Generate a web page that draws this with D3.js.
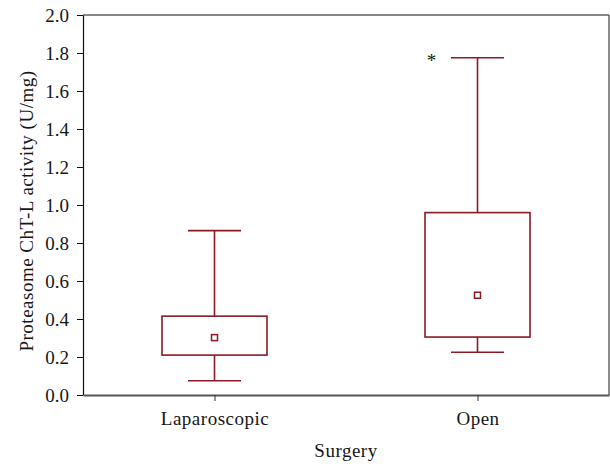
<!DOCTYPE html>
<html>
<head>
<meta charset="utf-8">
<script src="https://cdnjs.cloudflare.com/ajax/libs/d3/7.8.5/d3.min.js"></script>
<style>
	body { margin: 0; background: #fff; }
	svg text { font-family: "Liberation Serif", "Times New Roman", serif; fill: #161616; }
</style>
</head>
<body>
<div id="chart"></div>
<script>
'use strict'

// box summaries
let categories = ['Laparoscopic', 'Open'],
    whiskerLow = [0.075, 0.225],
    q1 = [0.21, 0.305],
    q3 = [0.415, 0.96],
    whiskerHigh = [0.865, 1.775],
    means = [0.302, 0.525];

let outlierGroup = ['Open'],
    outlierValue = [1.775];

let yTicks = [0, 0.2, 0.4, 0.6, 0.8, 1.0, 1.2, 1.4, 1.6, 1.8, 2.0];

let svg = d3.select('#chart')
	.append('svg')
	.attr('width', 610)
	.attr('height', 464);

let margin = {top: 15, right: 1, bottom: 69, left: 83},
    width = +svg.attr('width') - margin.left - margin.right,
    height = +svg.attr('height') - margin.top - margin.bottom;

let x = d3.scalePoint().domain(categories).range([0, width]).padding(0.5),
    y = d3.scaleLinear().domain([0, 2]).range([height, 0]);

let boxW = 105, capW = 53, red = '#8b1a22';

let g = svg.append('g')
	.attr('transform', 'translate(' + margin.left + ',' + margin.top + ')');

// frame: top and right
g.append('line').attr('x1', 0).attr('x2', width).attr('y1', 0).attr('y2', 0)
	.attr('stroke', '#111').attr('stroke-width', 1.2);
g.append('line').attr('x1', width).attr('x2', width).attr('y1', 0).attr('y2', height)
	.attr('stroke', '#666').attr('stroke-width', 1.5);

let data = categories.map(function(c, i) {
	return {cat: c, lo: whiskerLow[i], q1: q1[i], q3: q3[i], hi: whiskerHigh[i], mean: means[i]};
});

let box = g.selectAll('.box')
	.data(data)
	.enter().append('g')
	.attr('class', 'box')
	.attr('transform', function(d) { return 'translate(' + x(d.cat) + ',0)'; });

// whiskers
box.append('line')
	.attr('y1', function(d) { return y(d.q3); })
	.attr('y2', function(d) { return y(d.hi); })
	.attr('stroke', red).attr('stroke-width', 1.6);
box.append('line')
	.attr('y1', function(d) { return y(d.q1); })
	.attr('y2', function(d) { return y(d.lo); })
	.attr('stroke', red).attr('stroke-width', 1.6);
box.append('line')
	.attr('x1', -capW / 2).attr('x2', capW / 2)
	.attr('y1', function(d) { return y(d.hi); })
	.attr('y2', function(d) { return y(d.hi); })
	.attr('stroke', red).attr('stroke-width', 1.6);
box.append('line')
	.attr('x1', -capW / 2).attr('x2', capW / 2)
	.attr('y1', function(d) { return y(d.lo); })
	.attr('y2', function(d) { return y(d.lo); })
	.attr('stroke', red).attr('stroke-width', 1.6);

// box
box.append('rect')
	.attr('x', -boxW / 2)
	.attr('width', boxW)
	.attr('y', function(d) { return y(d.q3); })
	.attr('height', function(d) { return y(d.q1) - y(d.q3); })
	.attr('fill', 'none')
	.attr('stroke', red).attr('stroke-width', 1.6);

// mean marker
box.append('rect')
	.attr('x', -3).attr('width', 6)
	.attr('y', function(d) { return y(d.mean) - 3; })
	.attr('height', 6)
	.attr('fill', '#fff')
	.attr('stroke', red).attr('stroke-width', 1.5);

// outlier asterisk
g.selectAll('.outlier')
	.data(outlierGroup.map(function(c, i) { return {cat: c, v: outlierValue[i]}; }))
	.enter().append('text')
	.attr('class', 'outlier')
	.attr('x', function(d) { return x(d.cat) - 46; })
	.attr('y', function(d) { return y(d.v); })
	.attr('dy', '0.5em')
	.attr('text-anchor', 'middle')
	.style('font-size', '19px')
	.text('*');

// axes
let yAxis = d3.axisLeft(y).tickValues(yTicks).tickFormat(d3.format('.1f'))
	.tickSize(6).tickSizeOuter(0).tickPadding(8);
let gy = g.append('g').call(yAxis);
gy.select('.domain').attr('stroke', '#111').attr('stroke-width', 1.2);
gy.selectAll('.tick line').attr('stroke', '#111');
gy.selectAll('text').style('font-size', '19px');

let xAxis = d3.axisBottom(x).tickSize(6).tickSizeOuter(0).tickPadding(11);
let gx = g.append('g').attr('transform', 'translate(0,' + height + ')').call(xAxis);
gx.select('.domain').attr('stroke', '#555').attr('stroke-width', 2);
gx.selectAll('.tick line').attr('stroke', '#333');
gx.selectAll('text').style('font-size', '19px').style('letter-spacing', '0.5px');

// axis titles
svg.append('text')
	.attr('x', margin.left + width / 2)
	.attr('y', 457)
	.attr('text-anchor', 'middle')
	.style('font-size', '19px')
	.style('letter-spacing', '0.5px')
	.text('Surgery');

svg.append('text')
	.attr('transform', 'rotate(-90)')
	.attr('x', -(margin.top + height / 2 + 6))
	.attr('y', 33)
	.attr('text-anchor', 'middle')
	.style('font-size', '19px')
	.style('letter-spacing', '0.5px')
	.text('Proteasome ChT-L activity (U/mg)');
</script>
</body>
</html>
